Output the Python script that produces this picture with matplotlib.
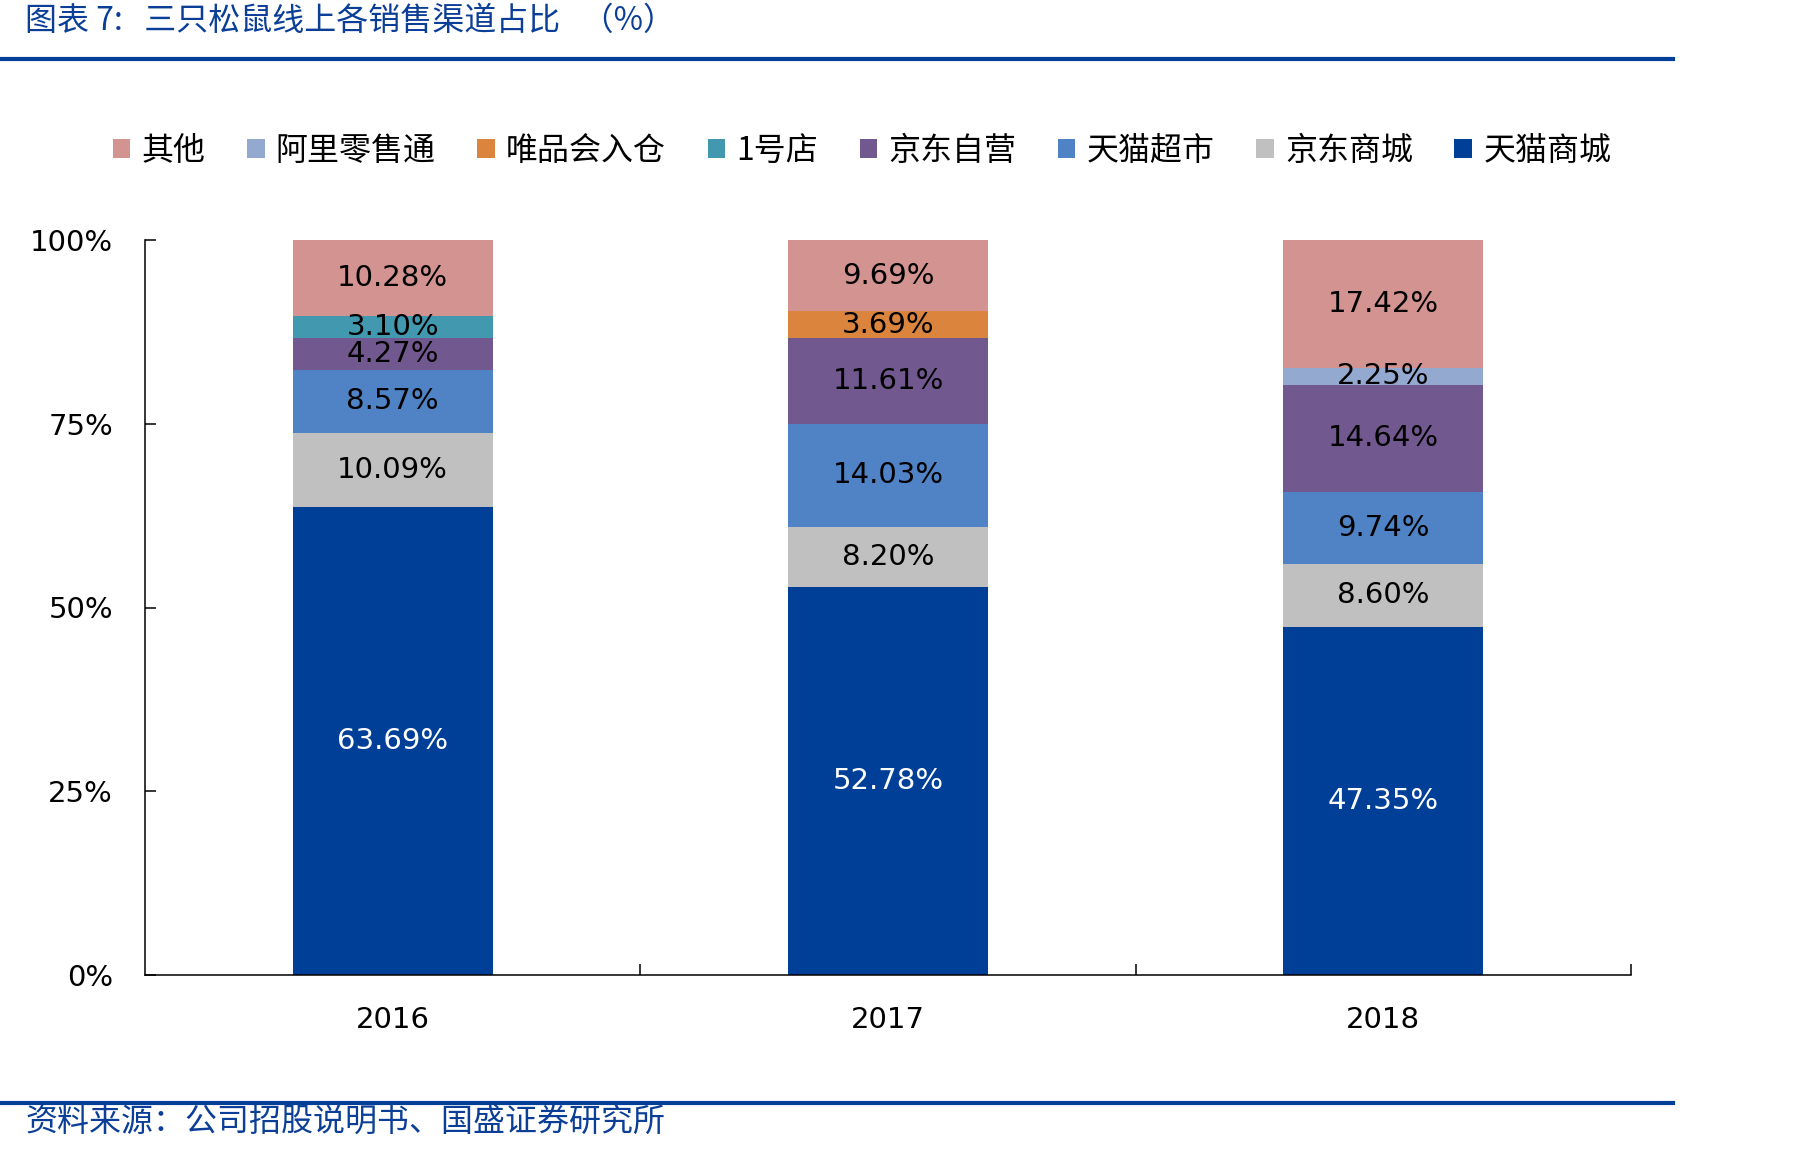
import matplotlib
matplotlib.use("Agg")
import matplotlib.pyplot as plt
from matplotlib.patches import Patch
from matplotlib.lines import Line2D
import numpy as np

plt.rcParams['font.family'] = ['DejaVu Sans', 'Noto Sans CJK SC']

years = ["2016", "2017", "2018"]
series_names = ["天猫商城", "京东商城", "天猫超市", "京东自营", "1号店", "唯品会入仓", "阿里零售通", "其他"]
tmall = [63.69, 52.78, 47.35]
jd_mall = [10.09, 8.20, 8.60]
tmall_super = [8.57, 14.03, 9.74]
jd_self = [4.27, 11.61, 14.64]
yhd = [3.10, 0.0, 0.0]
vip = [0.0, 3.69, 0.0]
ali_lst = [0.0, 0.0, 2.25]
others = [10.28, 9.69, 17.42]
series_values = [tmall, jd_mall, tmall_super, jd_self, yhd, vip, ali_lst, others]
colors = ["#003F98", "#C0C0C0", "#4F83C5", "#71588F", "#4198AF", "#DB843D", "#93A9D0", "#D29391"]
label_colors = ["white", "black", "black", "black", "black", "black", "black", "black"]

W, H = 1807, 1155
fig = plt.figure(figsize=(W / 100, H / 100), dpi=100)

ax = fig.add_axes([145 / W, 1 - 975 / H, (1631 - 145) / W, (975 - 240) / H])
x = np.arange(len(years))
bottom = np.zeros(len(years))
bw = 0.404
for vals, c, lc in zip(series_values, colors, label_colors):
    v = np.array(vals)
    ax.bar(x, v, bw, bottom=bottom, color=c, linewidth=0, zorder=2)
    for xi, vi, bi in zip(x, v, bottom):
        if vi > 0:
            ax.text(xi, bi + vi / 2, f"{vi:.2f}%", ha="center", va="center",
                    fontsize=21, color=lc, zorder=3)
    bottom += v

ax.set_xlim(-0.5, 2.5)
ax.set_ylim(0, 100)
ax.set_yticks([0, 25, 50, 75, 100])
ax.set_yticklabels(["0%", "25%", "50%", "75%", "100%"])
ax.set_xticks(x)
ax.set_xticklabels(years)
ax.set_xticks([0.5, 1.5, 2.5], minor=True)
ax.tick_params(axis="x", which="major", length=0, pad=22, labelsize=21)
ax.tick_params(axis="x", which="minor", direction="in", length=8, width=1.1)
ax.tick_params(axis="y", direction="in", length=8, width=1.1, pad=23, labelsize=21)
for s in ["top", "right"]:
    ax.spines[s].set_visible(False)
for s in ["left", "bottom"]:
    ax.spines[s].set_linewidth(1.1)
    ax.spines[s].set_color("black")

# legend (reverse stacking order)
handles = [Patch(facecolor=c, edgecolor="none") for c in colors][::-1]
labels = series_names[::-1]
fig.legend(handles, labels, loc="center", bbox_to_anchor=(862 / W, 1 - 151 / H), ncol=8,
           frameon=False, prop={"family": ["Noto Sans CJK SC", "DejaVu Sans"], "size": 23},
           handlelength=0.55, handleheight=0.55, handletextpad=0.35, columnspacing=1.3)

# header/footer
blue = "#0B3E96"
cjk = ["Noto Sans CJK SC", "DejaVu Sans"]
fig.add_artist(Line2D([0, 1673 / W], [1 - 59 / H, 1 - 59 / H], color="#003F98", linewidth=3))
fig.add_artist(Line2D([0, 1673 / W], [1 - 1103 / H, 1 - 1103 / H], color="#003F98", linewidth=3))
fig.text(25 / W, 1 - 21 / H, "图表 7:   三只松鼠线上各销售渠道占比   （%）", ha="left", va="center",
         fontsize=23, color=blue, family=cjk)
fig.text(25 / W, 1 - 1123 / H, "资料来源：公司招股说明书、国盛证券研究所", ha="left", va="center",
         fontsize=23, color=blue, family=cjk)

fig.savefig("out.png", dpi=100)
